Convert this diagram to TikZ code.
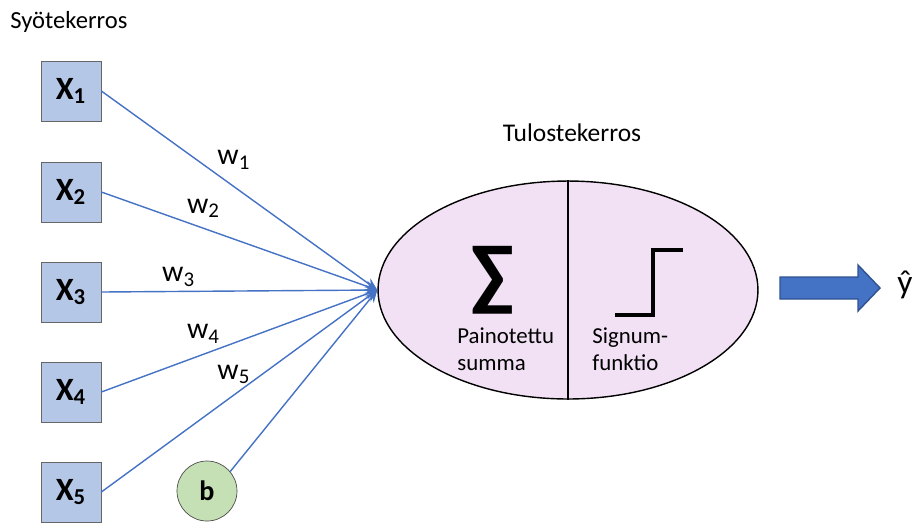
\documentclass[tikz,border=0pt]{standalone}
\usepackage{fontspec}
\setmainfont{Carlito}
\usetikzlibrary{shapes.geometric,arrows.meta}

\definecolor{inblue}{HTML}{B4C7E7}
\definecolor{wline}{HTML}{4472C4}
\definecolor{wdark}{HTML}{2F528F}
\definecolor{outpink}{HTML}{F2E1F4}
\definecolor{biasgreen}{HTML}{C5E0B4}

\newcommand{\fs}[1]{\fontsize{#1}{1.2\dimexpr#1\relax}\selectfont}

\begin{document}
\begin{tikzpicture}[x=0.02cm,y=-0.02cm,
    inp/.style={draw=gray!80!black,fill=inblue,minimum size=1.2cm,inner
        sep=0pt,font=\fs{18.5pt}\bfseries},
    bias/.style={circle,draw=gray!60!black,fill=biasgreen,minimum
        size=1.2cm,inner sep=0pt,font=\fs{16pt}\bfseries},
    wt/.style={wline,line width=0.8pt},
    lbl/.style={text=black,font=\fs{17pt},inner sep=0pt},
    txt/.style={font=\fs{13pt},align=left,inner sep=0pt}]

    \useasboundingbox (0,0) rectangle (916,522);

    % the inputs

    \node[anchor=west,font=\fs{14pt},inner sep=0pt] (inlayer) at (10,22) {Syötekerros};
    \node[inp] (x1) at (71,91) {X\textsubscript{1}};
    \node[inp] (x2) at (71,192) {X\textsubscript{2}};
    \node[inp] (x3) at (71,292) {X\textsubscript{3}};
    \node[inp] (x4) at (71,392) {X\textsubscript{4}};
    \node[inp] (x5) at (71,492) {X\textsubscript{5}};
    \node[bias] (b) at (207,491) {b};

    % the output unit

    \node[ellipse,draw,thick,fill=outpink,minimum width=7.6cm,minimum
        height=4.36cm,inner sep=0pt] (out) at (568,290) {};
    \draw[thick] (out.north) -- (out.south);
    \node[font=\fs{14.5pt},inner sep=0pt] (outlayer) at (572,133) {Tulostekerros};
    \node[inner sep=0pt,font=\fs{46pt}\bfseries] (sum) at (493,280) {∑};
    \node[txt,anchor=north west] (sumtxt) at (457,327) {Painotettu\\summa};
    \node[txt,anchor=north west] (sgntxt) at (592,327) {Signum-\\funktio};
    \draw[line width=2.8pt] (615,315) -- (653,315) -- (653,250) -- (683,250);

    % the weights

    \coordinate (tip) at (out.west);
    \draw[wt,-{Stealth[length=7pt,width=6pt]}] (x1.east) to
    node[lbl,pos=0.48,above=9.5pt]{w\textsubscript{1}} (tip);
    \draw[wt,-{Stealth[length=7pt,width=6pt]}] (x2.east) to
    node[lbl,pos=0.37,above=5.5pt]{w\textsubscript{2}} (tip);
    \draw[wt,-{Stealth[length=7pt,width=6pt]}] (x3.east) to
    node[lbl,pos=0.28,above=2.5pt]{w\textsubscript{3}} (tip);
    \draw[wt,-{Stealth[length=7pt,width=6pt]}] (x4.east) to
    node[lbl,pos=0.37,above=6pt]{w\textsubscript{4}} (tip);
    \draw[wt,-{Stealth[length=7pt,width=6pt]}] (x5.east) to
    node[lbl,pos=0.48,above=6pt]{w\textsubscript{5}} (tip);
    \draw[wt,-{Stealth[length=7pt,width=6pt]}] (b.40) to (tip);

    % the prediction

    \draw[wdark,fill=wline,line width=0.8pt] (780,277) -- (858,277) -- (858,265)
    -- (880,288) -- (858,311) -- (858,299) -- (780,299) -- cycle;
    \node[font=\fs{19pt},inner sep=0pt] (yhat) at (905,285) {ŷ};
\end{tikzpicture}
\end{document}
